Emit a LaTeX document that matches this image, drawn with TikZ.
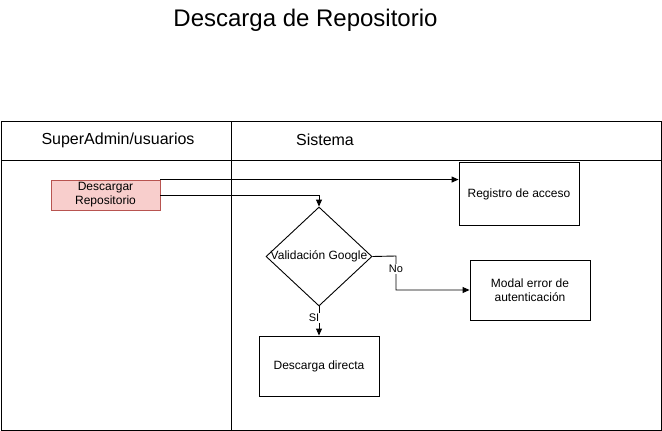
\documentclass[tikz,border=0pt]{standalone}
\usepackage{fontspec}
\setmainfont{Liberation Sans}
\usetikzlibrary{shapes.geometric,arrows.meta}
\begin{document}
\begin{tikzpicture}[x=1pt,y=-1pt,
  line width=0.9pt,
  boxnode/.style={draw=black,line width=0.9pt,minimum width=120pt,minimum height=60pt,inner sep=0pt,align=center,font=\fontsize{12}{14}\selectfont},
  arr/.style={-{Triangle[length=7pt,width=6pt]},line width=0.9pt},
  lbl/.style={fill=white,inner sep=1pt,font=\fontsize{11}{13}\selectfont}]
\useasboundingbox (0,0) rectangle (662,431);
% title
\node[font=\fontsize{24}{28}\selectfont] (title) at (305.5,20) {Descarga de Repositorio};
% pool frame
\draw (1,121) rectangle (661,430);
\draw (1,160) -- (661,160);
\draw (231,121) -- (231,430);
\node[font=\fontsize{16}{19}\selectfont] (lane1) at (118,140) {SuperAdmin/usuarios};
\node[font=\fontsize{16}{19}\selectfont] (lane2) at (325,140) {Sistema};
% nodes
\node[draw={rgb,255:red,184;green,84;blue,80},fill={rgb,255:red,248;green,206;blue,204},minimum width=109pt,minimum height=30pt,inner sep=0pt,align=center,font=\fontsize{12}{14}\selectfont,line width=0.9pt] (desc) at (105.5,195) {Descargar\\Repositorio};
\node[boxnode,minimum height=63pt] (reg) at (519,194) {Registro de acceso};
\node[draw,diamond,aspect=1.07,minimum width=106pt,minimum height=99pt,inner sep=0pt,font=\fontsize{12}{14}\selectfont,line width=0.9pt] (dia) at (319,256.5) {};
\node[font=\fontsize{12}{14}\selectfont] (dialbl) at (319,256) {Validación Google};
\node[boxnode] (modal) at (530,290) {Modal error de\\autenticación};
\node[boxnode] (dd) at (319,366) {Descarga directa};
% connectors
\draw[arr] (desc.north east) -- (desc.north east -| reg.west);
\draw[arr] (desc.east) -| (dia.north);
\coordinate (bend) at (396,256);
\draw[arr] (dia.east) -- (bend) |- (modal.west);
\node[lbl] (nolbl) at (396,269) {No};
\draw[arr] (dia.south) -- (dd.north);
\node[lbl] (silbl) at (314,318) {SI};
\end{tikzpicture}
\end{document}
